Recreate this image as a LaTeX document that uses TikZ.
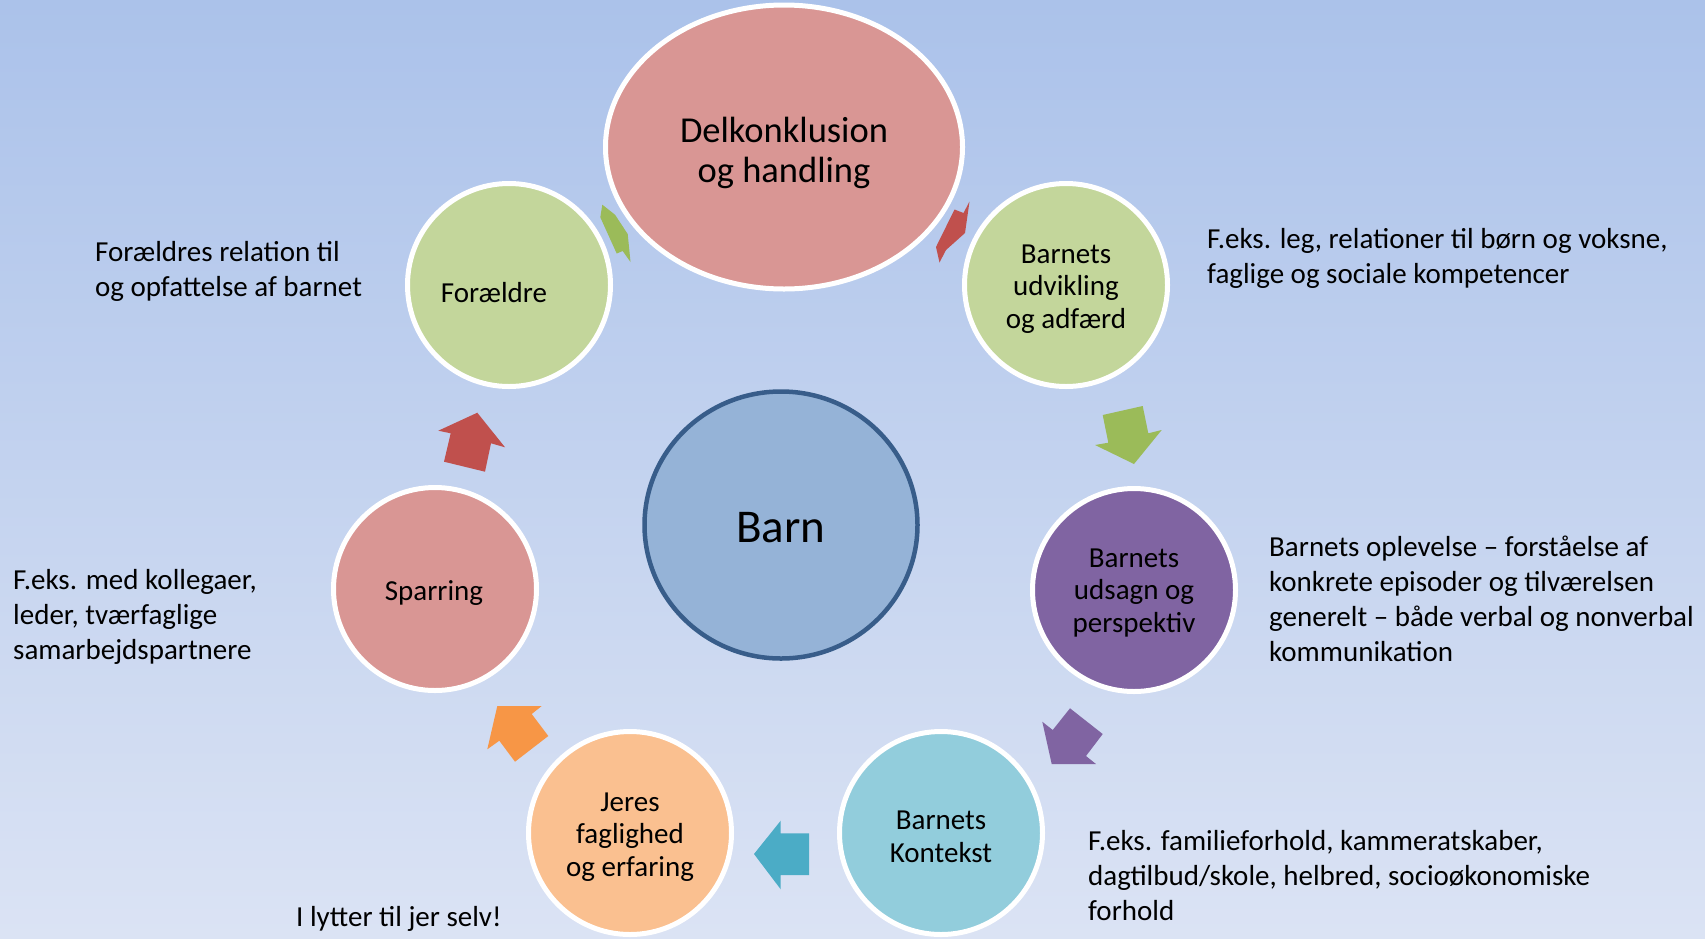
\documentclass[tikz,border=0pt]{standalone}
\usepackage{fontspec}
\setmainfont{Carlito}
\usetikzlibrary{shapes.geometric}
\definecolor{bgtop}{RGB}{171,194,234}
\definecolor{bgbot}{RGB}{219,227,244}
\definecolor{cgreen}{HTML}{C3D69B}
\definecolor{cpink}{HTML}{D99694}
\definecolor{cpurple}{HTML}{8064A2}
\definecolor{ccyan}{HTML}{92CDDC}
\definecolor{corange}{HTML}{FAC090}
\definecolor{cbarn}{HTML}{95B3D7}
\definecolor{cbarnb}{HTML}{385D8A}
\definecolor{agreen}{HTML}{9BBB59}
\definecolor{ared}{HTML}{C0504D}
\definecolor{apurple}{HTML}{8064A2}
\definecolor{acyan}{HTML}{4BACC6}
\definecolor{aorange}{HTML}{F79646}
\tikzset{
  cyc/.style={circle, draw=white, line width=5pt, minimum size=203pt, inner sep=0pt},
  ctext/.style={align=center, font=\fontsize{29}{32.6}\selectfont, text=black},
  note/.style={anchor=west, align=left, font=\fontsize{29}{35}\selectfont, text=black, inner sep=0pt},
}
\begin{document}
\begin{tikzpicture}[x=1pt,y=-1pt]
\useasboundingbox (0,0) rectangle (1705,938);
\shade[top color=bgtop, bottom color=bgbot] (0,0) rectangle (1705,938);

% arrows
\fill[agreen] (602.3,204.7) -- (615,214.7) -- (627.7,234) -- (630.5,262) -- (622.7,251) -- (616.7,253.5) -- (600.3,217.3) -- cycle;
\fill[ared] (969.5,201.5) -- (965,233) -- (946,250) -- (939.5,262.5) -- (936,247) -- (954.5,209.5) -- (963.5,213) -- cycle;
\fill[agreen] (1102.7,415) -- (1142.7,406) -- (1148.3,433.3) -- (1161.7,430) -- (1134,464) -- (1095,445) -- (1108.3,442.7) -- cycle;
\fill[apurple] (1042.3,721.7) -- (1052.7,730) -- (1070,708.3) -- (1102.7,734) -- (1086,756) -- (1096,764) -- (1051.7,764) -- cycle;
\fill[acyan] (754,854) -- (780.7,820.7) -- (780.7,833.3) -- (809,833.3) -- (809,875) -- (780.7,875) -- (780.7,889.3) -- cycle;
\fill[aorange] (497.3,706) -- (541.7,706) -- (531.7,714) -- (548.3,736) -- (515,761.7) -- (499.3,740.7) -- (487.3,749.3) -- cycle;
\fill[ared] (438.3,430.7) -- (477.3,412.7) -- (505,447.3) -- (491,443.3) -- (485,471.7) -- (444,461.7) -- (450.7,433.3) -- cycle;

% nodes
\node[ellipse, draw=white, line width=5pt, fill=cpink, minimum width=357pt, minimum height=284pt, inner sep=0pt] (delk) at (784,147) {};
\node[ctext, font=\fontsize{36.5}{40}\selectfont] (delkt) at (784,153) {Delkonklusion\\og handling};

\node[cyc, fill=cgreen] (foraeldre) at (509,285) {};
\node[ctext] (foraeldret) at (494,293) {Forældre};

\node[cyc, fill=cgreen] (udv) at (1066,285) {};
\node[ctext] (udvt) at (1066,289) {Barnets\\udvikling\\og adfærd};

\node[cyc, fill=cpurple] (uds) at (1134,590) {};
\node[ctext] (udst) at (1134,593) {Barnets\\udsagn og\\perspektiv};

\node[cyc, fill=ccyan] (kon) at (941,833) {};
\node[ctext] (kont) at (941,837) {Barnets\\Kontekst};

\node[cyc, fill=corange] (jer) at (630,833) {};
\node[ctext] (jert) at (630,837) {Jeres\\faglighed\\og erfaring};

\node[cyc, fill=cpink] (spa) at (435,589) {};
\node[ctext] (spat) at (434,593) {Sparring};

\node[ellipse, draw=cbarnb, line width=4.5pt, fill=cbarn, minimum width=273pt, minimum height=267pt, inner sep=0pt] (barn) at (781,525) {};
\node[ctext, font=\fontsize{47}{52}\selectfont] (barnt) at (781,528) {Barn};

% notes
\node[note] (n1) at (95,271.5) {Forældres relation til\\og opfattelse af barnet};
\node[note] (n2) at (1207,258.5) {F.eks. leg, relationer til børn og voksne,\\faglige og sociale kompetencer};
\node[note] (n3) at (1269,598.5) {Barnets oplevelse – forståelse af\\konkrete episoder og tilværelsen\\generelt – både verbal og nonverbal\\kommunikation};
\node[note] (n4) at (13,616.5) {F.eks. med kollegaer,\\leder, tværfaglige\\samarbejdspartnere};
\node[note] (n5) at (1088,876) {F.eks. familieforhold, kammeratskaber,\\dagtilbud/skole, helbred, socioøkonomiske\\forhold};
\node[note] (n6) at (296,919) {I lytter til jer selv!};
\end{tikzpicture}
\end{document}
